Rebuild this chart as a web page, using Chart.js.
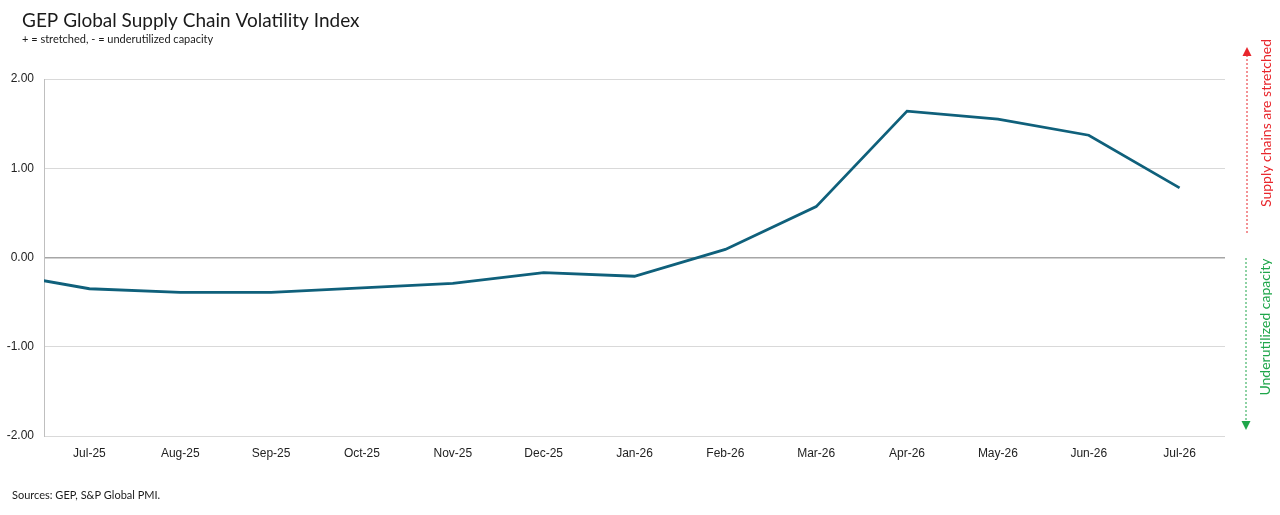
<!DOCTYPE html>
<html>
<head>
<meta charset="utf-8">
<script src="https://cdn.jsdelivr.net/npm/chart.js@4/dist/chart.umd.min.js"></script>
<style>
  html, body { margin: 0; padding: 0; background: #fff; }
  #wrap { position: relative; width: 1280px; height: 515px; }
</style>
</head>
<body>
<div id="wrap"><canvas id="chart" width="1280" height="515"></canvas></div>
<script>
// months; Jun-25 sits just left of the plot and is clipped
const months = ['Jun-25', 'Jul-25', 'Aug-25', 'Sep-25', 'Oct-25', 'Nov-25', 'Dec-25',
    'Jan-26', 'Feb-26', 'Mar-26', 'Apr-26', 'May-26', 'Jun-26', 'Jul-26'];
const indexValues = [-0.17, -0.35, -0.39, -0.39, -0.34, -0.29, -0.17,
    -0.21, 0.09, 0.57, 1.64, 1.55, 1.37, 0.78];
const yTicks = [-2, -1, 0, 1, 2];

const title = 'GEP Global Supply Chain Volatility Index';
const subtitle = '+ = stretched, - = underutilized capacity';
const source = 'Sources: GEP, S&P Global PMI.';
const upLabel = 'Supply chains are stretched';
const downLabel = 'Underutilized capacity';

const points = indexValues.map((v, i) => ({ x: i, y: v }));

// text + side arrows drawn straight on the canvas
const decorations = {
    id: 'decorations',
    afterDraw(chart) {
        const ctx = chart.ctx;
        ctx.save();
        ctx.fillStyle = '#1a1a1a';
        ctx.textBaseline = 'alphabetic';
        ctx.textAlign = 'left';
        ctx.font = '19px Lato, "Noto Sans", sans-serif';
        ctx.fillText(title, 22, 27);
        ctx.font = '11px Lato, "Noto Sans", sans-serif';
        ctx.fillText(subtitle, 22, 43);
        ctx.fillText(source, 12, 499);

        // dotted arrows
        drawArrow(ctx, 1247, 233, 47, '#e8262c');
        drawArrow(ctx, 1246, 258, 430, '#1fa64a');

        // rotated labels
        ctx.font = '14px Lato, "Noto Sans", sans-serif';
        ctx.textAlign = 'center';
        ctx.textBaseline = 'middle';
        ctx.fillStyle = '#e8262c';
        ctx.translate(1266, 123);
        ctx.rotate(-Math.PI / 2);
        ctx.fillText(upLabel, 0, 0);
        ctx.setTransform(1, 0, 0, 1, 0, 0);
        ctx.fillStyle = '#1fa64a';
        ctx.translate(1265, 327);
        ctx.rotate(-Math.PI / 2);
        ctx.fillText(downLabel, 0, 0);
        ctx.restore();
    }
};

function drawArrow(ctx, x, y0, y1, color) {
    const dir = y1 < y0 ? -1 : 1;
    ctx.save();
    ctx.strokeStyle = color;
    ctx.fillStyle = color;
    ctx.lineWidth = 1;
    ctx.setLineDash([2, 2]);
    ctx.beginPath();
    ctx.moveTo(x, y0);
    ctx.lineTo(x, y1 - dir * 8);
    ctx.stroke();
    ctx.setLineDash([]);
    ctx.beginPath();
    ctx.moveTo(x, y1);
    ctx.lineTo(x - 4.5, y1 - dir * 9);
    ctx.lineTo(x + 4.5, y1 - dir * 9);
    ctx.closePath();
    ctx.fill();
    ctx.restore();
}

new Chart(document.getElementById('chart'), {
    type: 'line',
    data: {
        datasets: [{
            label: 'GEP Global Supply Chain Volatility Index',
            data: points,
            borderColor: '#0f607b',
            borderWidth: 2.8,
            pointRadius: 0,
            tension: 0,
            fill: false
        }]
    },
    options: {
        responsive: false,
        animation: false,
        layout: { padding: { top: 79, right: 55, bottom: 49, left: 0 } },
        plugins: {
            legend: { display: false },
            tooltip: { enabled: false }
        },
        scales: {
            x: {
                type: 'linear',
                min: 0.5,
                max: 13.5,
                afterBuildTicks(scale) {
                    scale.ticks = months.slice(1).map((m, i) => ({ value: i + 1 }));
                },
                afterFit(scale) { scale.height = 30; },
                ticks: {
                    color: '#222',
                    font: { family: '"Liberation Sans", Arial, sans-serif', size: 12 },
                    padding: 10,
                    maxRotation: 0,
                    autoSkip: false,
                    callback: v => months[v]
                },
                grid: { display: false, drawTicks: false },
                border: { display: false }
            },
            y: {
                min: -2,
                max: 2,
                afterBuildTicks(scale) {
                    scale.ticks = yTicks.map(v => ({ value: v }));
                },
                afterFit(scale) { scale.width = 44; },
                ticks: {
                    color: '#222',
                    font: { family: '"Liberation Sans", Arial, sans-serif', size: 12 },
                    padding: 10,
                    callback: v => v.toFixed(2)
                },
                grid: {
                    drawTicks: false,
                    color: ctx => ctx.tick && ctx.tick.value === 0 ? '#a6a6a6' : '#d9d9d9',
                    lineWidth: ctx => ctx.tick && ctx.tick.value === 0 ? 1.6 : 1
                },
                border: { display: true, color: '#bfbfbf', width: 1 }
            }
        }
    },
    plugins: [decorations]
});
</script>
</body>
</html>
